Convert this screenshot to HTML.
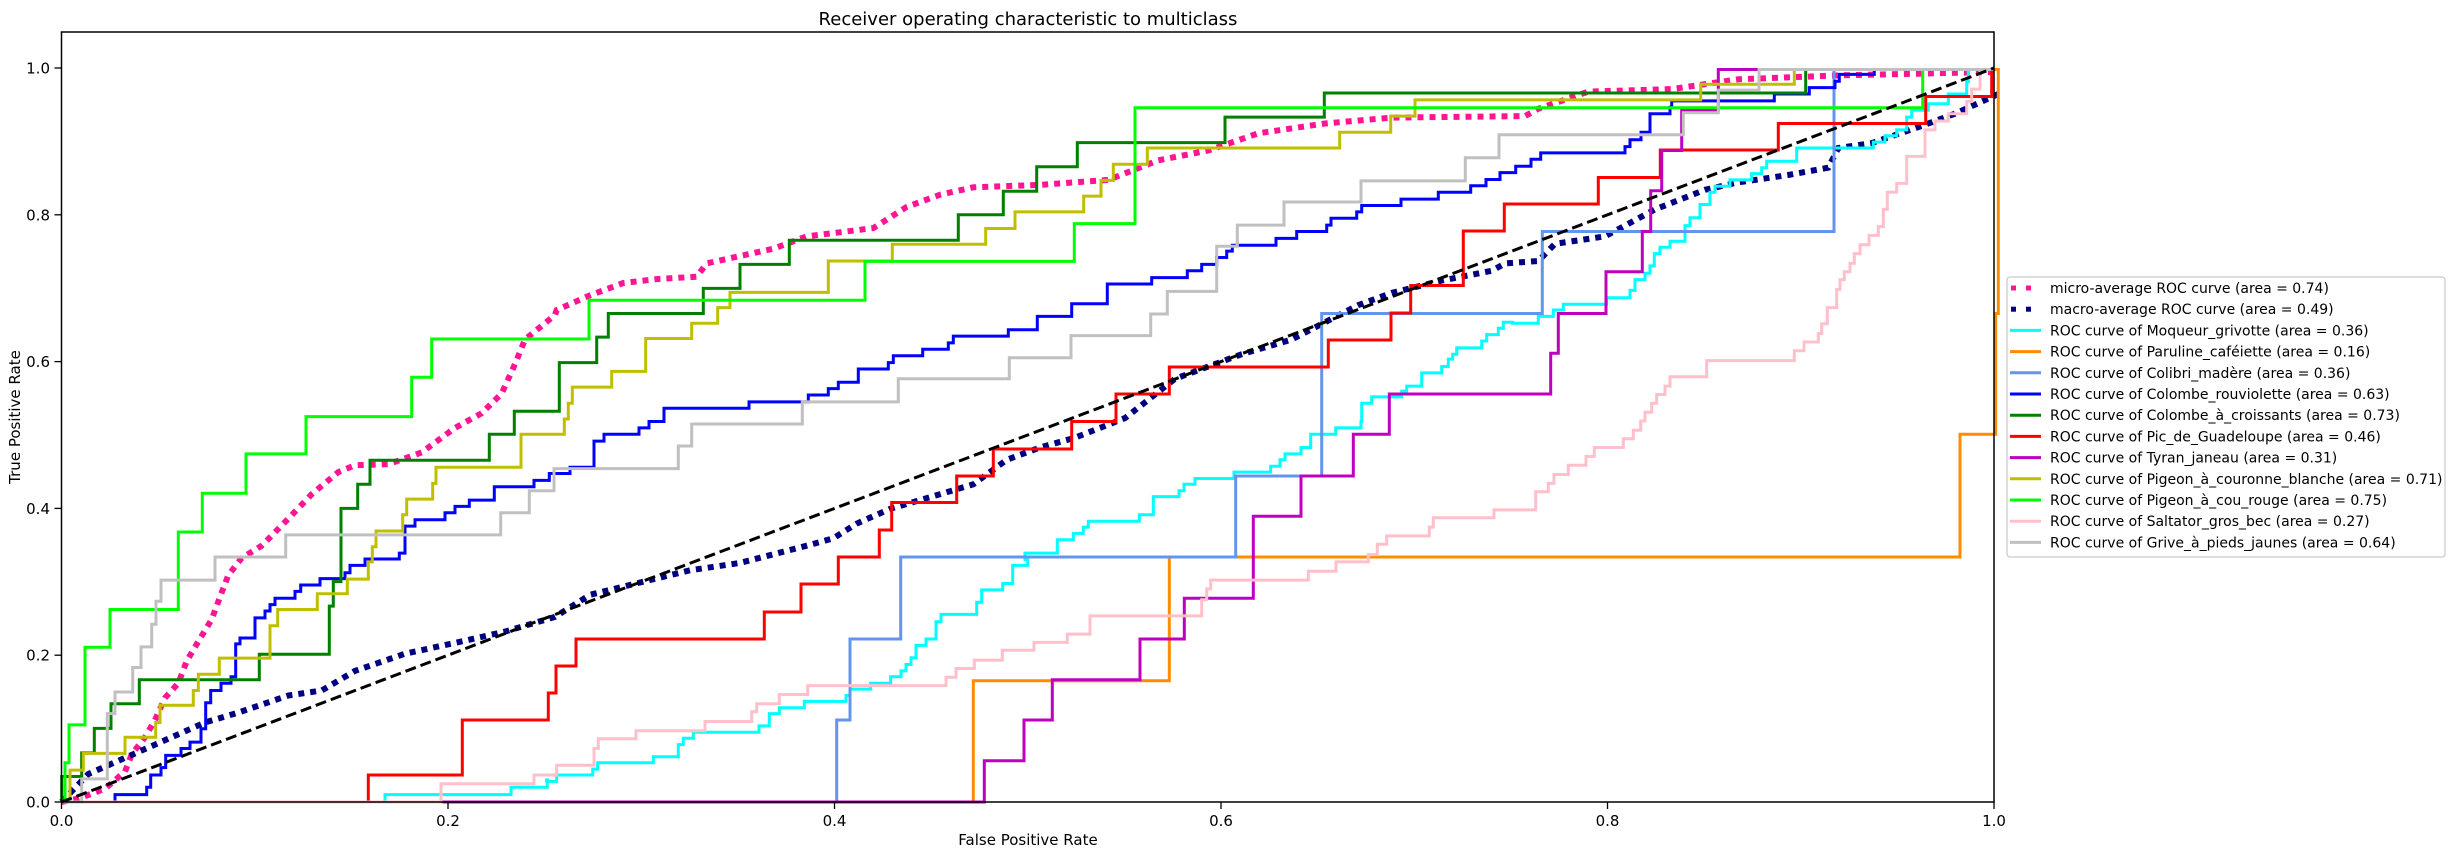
<!DOCTYPE html>
<html><head><meta charset="utf-8"><style>
body{margin:0;background:#fff;}
svg{display:block;font-family:"DejaVu Sans","Liberation Sans",sans-serif;}
</style></head><body>
<svg id="s" width="2455" height="855" viewBox="0 0 2455 855" xmlns="http://www.w3.org/2000/svg">
<rect width="2455" height="855" fill="#fff"/>
<text x="1028" y="25" font-size="18" text-anchor="middle">Receiver operating characteristic to multiclass</text>
<text x="1028" y="845" font-size="15" text-anchor="middle">False Positive Rate</text>
<text transform="translate(20,417) rotate(-90)" font-size="15" text-anchor="middle">True Positive Rate</text>
<g id="curves"></g>
<rect x="61.5" y="32" width="1932.5" height="770" fill="none" stroke="#000" stroke-width="1.5"/>
<g id="ticks" font-size="15"></g>
<rect x="2007" y="277" width="438" height="280" rx="3" fill="#fff" stroke="#ccc" stroke-width="1.3"/>
<g id="legend" font-size="14"></g>
</svg>
<script>
var NS="http://www.w3.org/2000/svg";
var CX=[0,55,540,1025,1505];
function PX(z,ix){return CX[z]+ix/3;}
function PY(iy){return 802-(1552-iy)/1495*734;}
function el(t,a,parent){var e=document.createElementNS(NS,t);for(var k in a)e.setAttribute(k,a[k]);(parent||document.getElementById('curves')).appendChild(e);return e;}
function pts(segs){var r=[];segs.forEach(function(s){var z=s[0];for(var i=1;i<s.length;i+=2)r.push([PX(z,s[i]),PY(s[i+1])]);});return r;}
function steps(segs){var p=pts(segs);var d="M61.5,802";p.forEach(function(q){d+=" H"+q[0].toFixed(1)+" V"+q[1].toFixed(1);});return d+" H1994";}
function line(segs){var p=pts(segs);var d="M61.5,802";p.forEach(function(q){d+=" L"+q[0].toFixed(1)+","+q[1].toFixed(1);});return d;}
var micro=[[1,70,1545,150,1525,210,1490,230,1455,270,1420,300,1385,330,1340,370,1310,395,1265,430,1225,470,1180,500,1125,520,1090,560,1055,620,1030,700,975,770,925,850,880,900,866,1000,864,1100,840,1200,790,1280,760,1340,720,1380,660,1410,610,1500,560],[2,50,550,150,520,250,495,350,487,470,482,500,455,600,440,700,425,800,400,1000,383,1100,340,1200,315,1300,300,1500,295],[3,250,285,400,245,550,225,700,190,900,170,1100,158,1500,155],[4,100,140,250,105,500,100,700,80,1000,72,1480,65]];
var macro=[[1,100,1495,200,1465,300,1435,450,1390,550,1370,700,1335,800,1325,900,1285,1050,1250,1200,1228,1350,1205,1500,1175],[2,150,1130,300,1105,450,1080,600,1065,800,1030,880,1015,950,985,1050,955,1200,925,1300,905,1400,855,1500,830],[3,150,810,300,770,450,690,650,640,800,610,900,575,1000,540,1100,515,1250,490,1400,470],[4,0,455,100,450,150,415,300,400,450,345,600,305,700,290,850,275,970,260,1000,220,1100,210,1250,175,1350,150,1480,110]];
el('path',{d:line(micro),fill:'none',stroke:'deeppink','stroke-width':6,'stroke-dasharray':'6 6'});
el('path',{d:line(macro),fill:'none',stroke:'navy','stroke-width':6,'stroke-dasharray':'6 6'});
var C=[
['aqua',[[1,990,1537,1368,1522,1477,1507],[2,20,1510,50,1497,158,1485,173,1472,340,1460,415,1435,430,1422,460,1410,657,1397,688,1372,718,1360,793,1347,918,1335,930,1322,992,1310,1052,1297,1083,1285,1098,1272,1113,1258,1128,1233,1158,1220,1188,1185,1203,1170,1310,1145,1325,1120,1388,1107,1418,1070,1463,1058],[3,0,1045,97,1018,145,1005,175,992,190,980,343,967,385,930,462,918,477,905,510,893,627,880,737,868,765,855,780,843,828,830,857,803,932,790,1008,777,1010,740,1040,727,1130,715,1145,705,1190,678,1250,665,1270,650,1283,640,1295,627,1370,613,1385,600,1420,587,1435,575],[4,22,577,100,563,145,550,175,538,305,525,375,510,390,488,420,475,435,460,448,435,465,422,495,410,540,378,555,362,585,335,615,310,630,298,675,285,740,272,770,260,785,247,875,220,1105,208,1140,195,1175,183,1205,157,1220,143,1270,130,1330,110,1385,85,1390,60]]],
['darkorange',[[2,1300,1305],[3,433,1053],[4,1365,803,1472,557,1480,60]]],
['cornflowerblue',[[2,890,1385,930,1220,1082,1053],[3,632,888,890,557],[4,112,390,987,60]]],
['blue',[[1,180,1537,275,1522,287,1497,318,1482,332,1457,378,1443,405,1430,438,1403,452,1350,467,1325,498,1310,528,1297,542,1230,555,1218,600,1177,630,1163,645,1150,660,1137,720,1123,737,1110,795,1097,870,1085,885,1070,930,1057,1033,1045,1050,990,1080,977,1170,963,1200,950,1243,937,1318,910,1437,897],[2,28,883,90,870,162,817,192,803,297,790,327,777,372,750,627,737,805,723,865,710,895,697,955,670,1045,657,1060,643,1148,630,1225,617,1240,603,1405,590],[3,37,563,140,537,247,497,380,484,487,470,530,457,575,443,605,430,622,418,753,404,815,390,905,377,918,363,995,350,1010,337,1128,324,1240,310,1337,297,1383,284,1425,270],[4,32,257,78,243,107,230,360,217,375,203,408,188,435,150,495,137,500,124,808,110,913,97,990,84,1003,70,1108,60]]],
['green',[[1,20,1500,80,1452,118,1402,168,1352,253,1303,613,1251,823,1153,835,1103,858,954,908,905,945,856,1303,803,1378,756],[2,58,657,170,605,205,557,490,506,600,457,748,408,1255,356,1390,308],[3,35,258,157,209,600,157,898,108],[4,902,60]]],
['red',[[1,940,1497,1222,1385],[2,25,1330,48,1275,108,1220,673,1165,783,1108,895,1053,1018,998,1055,942,1250,888,1360,833],[3,140,777,273,721,433,666,910,611,1098,556,1157,500,1315,389,1438,334],[4,280,280,466,224,820,170,1262,115,1460,60]]],
['#bf00bf',[[2,1333,1468,1452,1385],[3,82,1303,345,1220,478,1137,685,970,828,888,985,803,1093,721],[4,137,638,160,557,303,472,412,390,437,307,470,225,530,143,640,60]]],
['#bfbf00',[[1,45,1487,85,1453,210,1420,302,1390,315,1355,415,1325,430,1292,493,1259,645,1193,668,1160,787,1128,877,1098,940,1063,952,1032,963,1000,1043,967,1055,935,1133,903,1143,870,1398,803],[2,73,772,85,740,97,707,215,675,317,608,455,577,533,545,570,514,865,450,1057,416,1337,384,1425,350],[3,176,318,228,286,265,253,367,220,944,188,1097,155,1170,122],[4,587,90,868,60]]],
['lime',[[1,20,1552,30,1472,42,1395,90,1237,165,1160,370,1002,442,923,573,843,753,767,1070,687,1130,609],[2,147,530,975,451],[3,148,374,330,138],[4,1253,60]]],
['pink',[[1,1158,1515,1437,1497],[2,50,1477,162,1443,175,1423,288,1407,495,1388,635,1368,650,1352,718,1333,803,1315,1218,1298,1248,1280,1303,1263,1387,1243,1482,1227],[3,127,1210,195,1173,530,1140,545,1118,557,1100,850,1082,933,1063,1030,1048,1057,1027,1085,1010,1213,992,1225,973,1407,957],[4,92,920,130,903,147,885,190,866,243,848,268,830,355,812,385,795,407,776,420,758,440,740,455,722,480,705,495,686,605,653,868,633,897,615,940,598,950,578,967,545,995,508,1005,488,1018,472,1035,455,1048,435,1065,417,1092,398,1120,380,1135,345,1147,310,1175,292,1205,237,1260,183,1290,165,1330,150,1385,125,1400,100,1425,60]]],
['silver',[[1,80,1505,157,1372,180,1328,233,1278,258,1236,290,1190,303,1143,318,1100,480,1053,692,1008,1337,963,1423,918],[2,42,873,415,827,455,782,787,737,1075,690,1408,647],[3,138,602,377,558,427,512,575,420,637,377,777,330,1008,287,1321,240,1422,193],[4,535,148,640,102,762,60]]]
];
C.forEach(function(c){el('path',{d:steps(c[1]),fill:'none',stroke:c[0],'stroke-width':3});});
el('path',{d:"M61.5,802 L1994,68",fill:'none',stroke:'#000','stroke-width':3,'stroke-dasharray':'11 5'});
var tg=document.getElementById('ticks');
for(var i=0;i<=5;i++){var v=i*0.2;var x=61.5+v*1932.5;var y=802-v*734;
el('line',{x1:x,y1:802,x2:x,y2:809,stroke:'#000','stroke-width':1.3},tg);
el('text',{x:x,y:826,'text-anchor':'middle'},tg).textContent=v.toFixed(1);
el('line',{x1:54.5,y1:y,x2:61.5,y2:y,stroke:'#000','stroke-width':1.3},tg);
el('text',{x:50,y:y+5.5,'text-anchor':'end'},tg).textContent=v.toFixed(1);}
var lg=document.getElementById('legend');
var L=[['deeppink','micro-average ROC curve (area = 0.74)',1],['navy','macro-average ROC curve (area = 0.49)',1],['aqua','ROC curve of Moqueur_grivotte (area = 0.36)'],['darkorange','ROC curve of Paruline_caféiette (area = 0.16)'],['cornflowerblue','ROC curve of Colibri_madère (area = 0.36)'],['blue','ROC curve of Colombe_rouviolette (area = 0.63)'],['green','ROC curve of Colombe_à_croissants (area = 0.73)'],['red','ROC curve of Pic_de_Guadeloupe (area = 0.46)'],['#bf00bf','ROC curve of Tyran_janeau (area = 0.31)'],['#bfbf00','ROC curve of Pigeon_à_couronne_blanche (area = 0.71)'],['lime','ROC curve of Pigeon_à_cou_rouge (area = 0.75)'],['pink','ROC curve of Saltator_gros_bec (area = 0.27)'],['silver','ROC curve of Grive_à_pieds_jaunes (area = 0.64)']];
for(var i=0;i<L.length;i++){var y=288+i*21.2;
if(L[i][2]){el('rect',{x:2011,y:y-2.5,width:5,height:5,fill:L[i][0]},lg);el('rect',{x:2026,y:y-2.5,width:5,height:5,fill:L[i][0]},lg);}
else el('line',{x1:2010,y1:y,x2:2041,y2:y,stroke:L[i][0],'stroke-width':3},lg);
el('text',{x:2050,y:y+5},lg).textContent=L[i][1];}
</script>
</body></html>
